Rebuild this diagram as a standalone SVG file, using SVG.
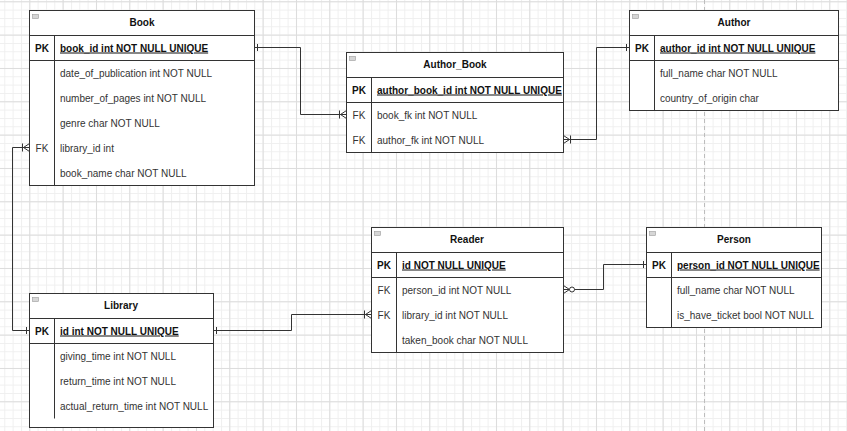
<svg xmlns="http://www.w3.org/2000/svg" width="847" height="431" viewBox="0 0 847 431">
<style>
.tbl{fill:#fff;stroke:#333;stroke-width:1}
.ln{stroke:#333;stroke-width:1;fill:none}
.t{font-family:"Liberation Sans",Arial,sans-serif;font-size:10px;fill:#333}
.b{font-weight:bold;fill:#111}
.h{font-weight:bold;fill:#111;text-anchor:middle}
.k{text-anchor:middle}
.u{text-decoration:underline}
.ic{fill:#d6d6d6;stroke:#9a9a9a;stroke-width:0.6}
.con{stroke:#333;stroke-width:1;fill:none}
</style>
<defs>
<pattern id="gmin" width="8.3333" height="8.3333" patternUnits="userSpaceOnUse" x="29.3" y="1.3">
<path d="M0,0.5H8.3333M0.5,0V8.3333" stroke="#efefef" stroke-width="1" fill="none"/>
</pattern>
<pattern id="gmaj" width="33.3333" height="33.3333" patternUnits="userSpaceOnUse" x="29.3" y="1.3">
<path d="M0,0.5H33.3333M0.5,0V33.3333" stroke="#dcdcdc" stroke-width="1" fill="none"/>
</pattern>
<marker id="one" markerUnits="userSpaceOnUse" viewBox="-10 -10 20 20" markerWidth="20" markerHeight="20" refX="0" refY="0" orient="auto-start-reverse">
<path d="M-3,-3.5V3.5" stroke="#333" stroke-width="1" fill="none"/>
</marker>
<marker id="many" markerUnits="userSpaceOnUse" viewBox="-10 -10 20 20" markerWidth="20" markerHeight="20" refX="0" refY="0" orient="auto-start-reverse">
<path d="M-7,-4V4M-6,0L0,-4M-6,0L0,0M-6,0L0,4" stroke="#333" stroke-width="1" fill="none"/>
</marker>
<marker id="zmany" markerUnits="userSpaceOnUse" viewBox="-14 -10 20 20" markerWidth="20" markerHeight="20" refX="0" refY="0" orient="auto-start-reverse">
<path d="M-6,0L0,-4M-6,0L0,0M-6,0L0,4" stroke="#333" stroke-width="1" fill="none"/>
<circle cx="-8.5" cy="0" r="2.5" fill="#fff" stroke="#333" stroke-width="1"/>
</marker>
</defs>
<rect width="847" height="431" fill="#fff"/>
<rect width="847" height="431" fill="url(#gmin)"/>
<rect width="847" height="431" fill="url(#gmaj)"/>
<line x1="704.5" y1="0" x2="704.5" y2="431" stroke="#bdbdbd" stroke-width="1" stroke-dasharray="4 3"/>

<g id="connectors">
<path class="con" d="M254.5,47.5H300.5V114.5H346.5" marker-start="url(#one)" marker-end="url(#many)"/>
<path class="con" d="M629.5,47.5H596.5V139.5H563.5" marker-start="url(#one)" marker-end="url(#many)"/>
<path class="con" d="M29.5,147.5H12.5V330.5H29.5" marker-start="url(#many)" marker-end="url(#one)"/>
<path class="con" d="M213.5,330.5H291.5V314.5H371.5" marker-start="url(#one)" marker-end="url(#many)"/>
<path class="con" d="M563.5,289.5H603.5V264.5H646.5" marker-start="url(#zmany)" marker-end="url(#one)"/>
</g>

<g id="book">
<rect class="tbl" x="29.5" y="10.5" width="225" height="175"/>
<path class="ln" d="M29.5,35.5H254.5M29.5,60.5H254.5M54.5,35.5V185.5"/>
<rect class="ic" x="32.5" y="14.5" width="6" height="4"/>
<text class="t h" x="142" y="26">Book</text>
<text class="t b k" x="42" y="51.5">PK</text>
<text class="t b u" x="60" y="51.5">book_id int NOT NULL UNIQUE</text>
<text class="t" x="60" y="76.5">date_of_publication int NOT NULL</text>
<text class="t" x="60" y="101.5">number_of_pages int NOT NULL</text>
<text class="t" x="60" y="126.5">genre char NOT NULL</text>
<text class="t k" x="42" y="151.5">FK</text>
<text class="t" x="60" y="151.5">library_id int</text>
<text class="t" x="60" y="176.5">book_name char NOT NULL</text>
</g>

<g id="author_book">
<rect class="tbl" x="346.5" y="52.5" width="217" height="100"/>
<path class="ln" d="M346.5,77.5H563.5M346.5,102.5H563.5M371.5,77.5V152.5"/>
<rect class="ic" x="349.5" y="56.5" width="6" height="4"/>
<text class="t h" x="455" y="68">Author_Book</text>
<text class="t b k" x="359" y="93.5">PK</text>
<text class="t b u" x="377" y="93.5">author_book_id int NOT NULL UNIQUE</text>
<text class="t k" x="359" y="118.5">FK</text>
<text class="t" x="377" y="118.5">book_fk int NOT NULL</text>
<text class="t k" x="359" y="143.5">FK</text>
<text class="t" x="377" y="143.5">author_fk int NOT NULL</text>
</g>

<g id="author">
<rect class="tbl" x="629.5" y="10.5" width="209" height="100"/>
<path class="ln" d="M629.5,35.5H838.5M629.5,60.5H838.5M654.5,35.5V110.5"/>
<rect class="ic" x="632.5" y="14.5" width="6" height="4"/>
<text class="t h" x="734" y="26">Author</text>
<text class="t b k" x="642" y="51.5">PK</text>
<text class="t b u" x="660" y="51.5">author_id int NOT NULL UNIQUE</text>
<text class="t" x="660" y="76.5">full_name char NOT NULL</text>
<text class="t" x="660" y="101.5">country_of_origin char</text>
</g>

<g id="library">
<rect class="tbl" x="29.5" y="293.5" width="184" height="134"/>
<path class="ln" d="M29.5,318.5H213.5M29.5,343.5H213.5M54.5,318.5V418.5"/>
<rect class="ic" x="32.5" y="297.5" width="6" height="4"/>
<text class="t h" x="121" y="309">Library</text>
<text class="t b k" x="42" y="334.5">PK</text>
<text class="t b u" x="60" y="334.5">id int NOT NULL UNIQUE</text>
<text class="t" x="60" y="359.5">giving_time int NOT NULL</text>
<text class="t" x="60" y="384.5">return_time int NOT NULL</text>
<text class="t" x="60" y="409.5">actual_return_time int NOT NULL</text>
</g>

<g id="reader">
<rect class="tbl" x="371.5" y="227.5" width="192" height="125"/>
<path class="ln" d="M371.5,252.5H563.5M371.5,277.5H563.5M396.5,252.5V352.5"/>
<rect class="ic" x="374.5" y="231.5" width="6" height="4"/>
<text class="t h" x="467" y="243">Reader</text>
<text class="t b k" x="384" y="268.5">PK</text>
<text class="t b u" x="402" y="268.5">id NOT NULL UNIQUE</text>
<text class="t k" x="384" y="293.5">FK</text>
<text class="t" x="402" y="293.5">person_id int NOT NULL</text>
<text class="t k" x="384" y="318.5">FK</text>
<text class="t" x="402" y="318.5">library_id int NOT NULL</text>
<text class="t" x="402" y="343.5">taken_book char NOT NULL</text>
</g>

<g id="person">
<rect class="tbl" x="646.5" y="227.5" width="175" height="100"/>
<path class="ln" d="M646.5,252.5H821.5M646.5,277.5H821.5M671.5,252.5V327.5"/>
<rect class="ic" x="649.5" y="231.5" width="6" height="4"/>
<text class="t h" x="734" y="243">Person</text>
<text class="t b k" x="659" y="268.5">PK</text>
<text class="t b u" x="677" y="268.5">person_id NOT NULL UNIQUE</text>
<text class="t" x="677" y="293.5">full_name char NOT NULL</text>
<text class="t" x="677" y="318.5">is_have_ticket bool NOT NULL</text>
</g>
</svg>
